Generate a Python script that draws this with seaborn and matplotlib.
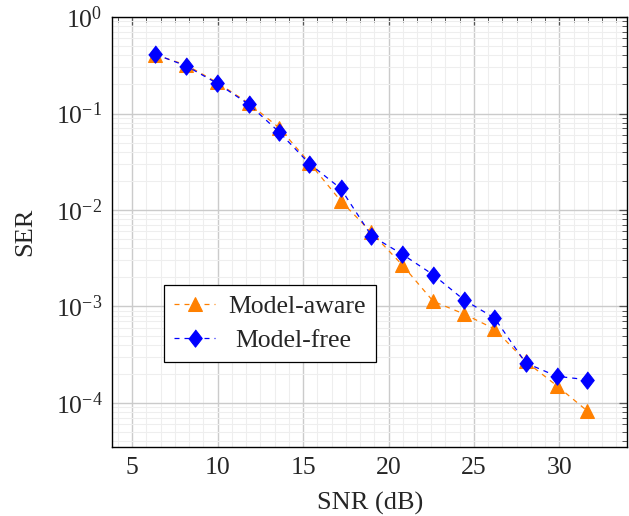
import numpy as np
import pandas as pd
import matplotlib
matplotlib.use("Agg")
import matplotlib.pyplot as plt
from matplotlib.ticker import MultipleLocator, LogLocator, NullFormatter
import seaborn as sns

# SNR grid (dB) shared by both detectors
snr_db = [6.35, 8.16, 9.96, 11.81, 13.59, 15.36, 17.20, 19.00,
          20.79, 22.62, 24.42, 26.20, 28.03, 29.85, 31.62]

# symbol error rates
ser_model_aware = [0.405, 0.318, 0.210, 0.128, 0.0714, 0.0310, 0.01245, 0.00585,
                   0.00271, 0.00113, 0.000836, 0.000585, 0.00027, 0.000151, 0.000083]
ser_model_free = [0.411, 0.311, 0.206, 0.125, 0.0645, 0.0303, 0.0167, 0.0054,
                  0.00349, 0.00213, 0.00117, 0.00076, 0.00026, 0.000189, 0.000174]

labels = ["Model-aware", "Model-free"]
colors = ["#FF8000", "#0000FF"]

sns.set_style("white")
plt.rcParams["font.family"] = ["Liberation Serif", "DejaVu Serif"]
plt.rcParams["mathtext.fontset"] = "stix"

fig = plt.figure(figsize=(6.29, 5.16), dpi=100)
ax = fig.add_axes([0.1785, 0.1331, 0.8183, 0.8339])

tri = "^"
diamond = [(0, 1), (0.78, 0), (0, -1), (-0.78, 0)]

df_a = pd.DataFrame({"snr": snr_db, "ser": ser_model_aware})
df_f = pd.DataFrame({"snr": snr_db, "ser": ser_model_free})

sns.lineplot(data=df_a, x="snr", y="ser", ax=ax, color=colors[0], linestyle=(0, (4, 4)),
             linewidth=0.9, marker=tri, markersize=10, markeredgecolor=colors[0],
             label=labels[0], sort=False, zorder=3)
sns.lineplot(data=df_f, x="snr", y="ser", ax=ax, color=colors[1], linestyle=(0, (4, 4)),
             linewidth=0.9, marker=diamond, markersize=12.5, markeredgecolor=colors[1],
             label=labels[1], sort=False, zorder=4)

ax.set_yscale("log")
ax.set_xlim(3.83, 33.96)
ax.set_ylim(10 ** -4.46, 1.0)

ax.xaxis.set_major_locator(MultipleLocator(5))
ax.xaxis.set_minor_locator(MultipleLocator(5 / 6))
ax.yaxis.set_major_locator(LogLocator(base=10, numticks=10))
ax.yaxis.set_minor_locator(LogLocator(base=10, subs=np.arange(2, 10), numticks=20))
ax.yaxis.set_minor_formatter(NullFormatter())

ax.grid(which="major", color="#CBCBCB", linewidth=1.0)
ax.grid(which="minor", color="#EEEEEE", linewidth=0.8)
ax.set_axisbelow(True)

ax.tick_params(which="both", direction="in", top=True, right=True, color="#555555")
ax.tick_params(which="major", length=6, width=0.9, labelsize=18.5, pad=7)
ax.tick_params(which="minor", length=3.5, width=0.7)

for s in ax.spines.values():
    s.set_color("black")
    s.set_linewidth(1.0)

ax.set_xlabel("SNR (dB)", fontsize=19, labelpad=9)
ax.set_ylabel("SER", fontsize=19, labelpad=14)

leg = ax.legend(loc="upper left", bbox_to_anchor=(0.1, 0.377), fontsize=18.5,
                frameon=True, fancybox=False, edgecolor="black", framealpha=1,
                handlelength=1.6, borderpad=0.4, labelspacing=0.4, handletextpad=0.5,
                borderaxespad=0)
leg.get_frame().set_linewidth(0.9)

# centre the shorter entry under the longer one
texts = leg.get_texts()
fig.canvas.draw()
r = fig.canvas.get_renderer()
w0 = texts[0].get_window_extent(r).width
w1 = texts[1].get_window_extent(r).width
texts[1].set_position(((w0 - w1) / 2 * 72 / fig.dpi, 0))

fig.savefig("out.png", dpi=100)
